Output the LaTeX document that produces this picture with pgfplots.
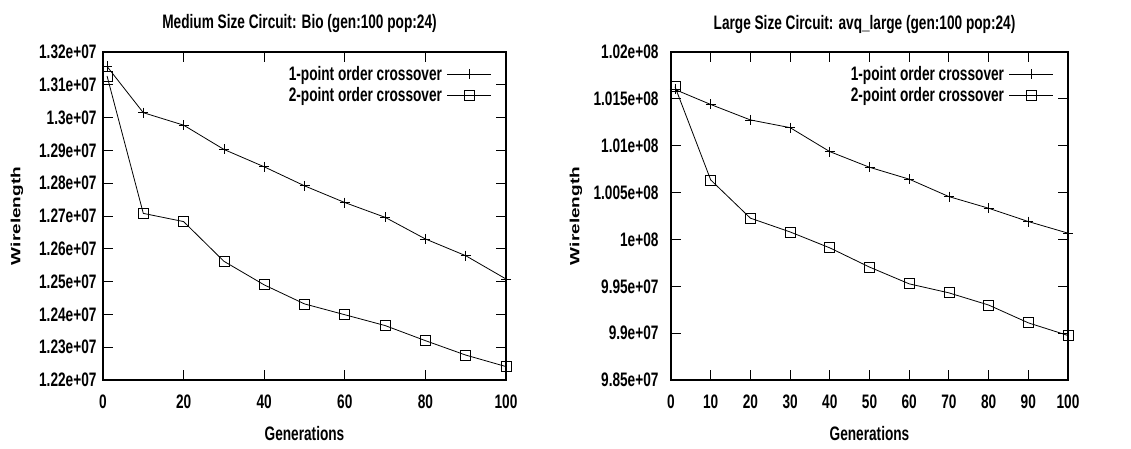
\documentclass[border=0pt]{standalone}
\usepackage{pgfplots}
\pgfplotsset{compat=1.18}
\usepackage{fontspec}
\usepackage{graphicx}
\setmainfont{Liberation Sans}[FakeStretch=0.7]
\newfontfamily\ylfont{Liberation Sans}
\newcommand\cf{\fontsize{19.5}{22}\selectfont\bfseries}

\pgfplotsset{
  gp/.style={
    scale only axis,
    height=328pt,
    xmin=0, xmax=100,
    axis line style={line width=1.5pt},
    tick style={line width=1pt, black},
    major tick length=10pt,
    tick align=inside,
    scaled y ticks=false,
    /pgf/number format/assume math mode=true,
    tick label style={font=\cf},
    xticklabel style={anchor=center, yshift=-22pt},
    yticklabel style={xshift=-3pt},
    title style={font=\cf, at={(axis description cs:0.5,1)}, anchor=center, yshift=22pt, xshift=-5pt},
    xlabel style={font=\cf, at={(axis description cs:0.5,0)}, anchor=center, yshift=-54pt},
    legend plot pos=right,
    legend cell align=right,
    legend style={draw=none, fill=none, font=\cf, at={(axis description cs:1,1)},
      anchor=north east, xshift=-14pt, yshift=-12pt, inner sep=0pt, row sep=2pt,
      column sep=3pt, nodes={inner sep=2pt}},
    legend image code/.code={\draw[mark repeat=2, mark phase=2, #1] plot coordinates {(0pt,0pt) (22pt,0pt) (44pt,0pt)};},
    every axis plot/.append style={black, line width=0.8pt, mark size=5pt, mark options={solid, line width=0.8pt}},
  }
}

\begin{document}
\begin{tikzpicture}
\useasboundingbox (0,0) rectangle (1131pt,448pt);

% medium circuit
\begin{axis}[gp,
  at={(103pt,68pt)}, anchor=south west,
  width=403pt,
  ymin=12200000, ymax=13200000,
  xtick={0,20,40,60,80,100},
  ytick={12200000,12300000,12400000,12500000,12600000,12700000,12800000,12900000,13000000,13100000,13200000},
  yticklabels={1.22e+07,1.23e+07,1.24e+07,1.25e+07,1.26e+07,1.27e+07,1.28e+07,1.29e+07,1.3e+07,1.31e+07,1.32e+07},
  title={Medium Size Circuit: Bio (gen:100 pop:24)},
  xlabel={Generations},
  ylabel={\scalebox{1}[0.7]{\ylfont\fontsize{19}{22}\selectfont\bfseries Wirelength}},
  ylabel style={at={(axis description cs:0,0.5)}, anchor=center, yshift=86pt},
]
\addplot[mark=+] coordinates {(1,13156000)(10,13015000)(20,12977000)(30,12903000)(40,12850000)(50,12792000)(60,12741000)(70,12696000)(80,12630000)(90,12579000)(100,12508000)};
\addlegendentry{1-point order crossover}
\addplot[mark=square] coordinates {(1,13127000)(10,12708000)(20,12683000)(30,12562000)(40,12490000)(50,12432000)(60,12399000)(70,12366000)(80,12320000)(90,12276000)(100,12241000)};
\addlegendentry{2-point order crossover}
\end{axis}

% large circuit
\begin{axis}[gp,
  at={(671pt,68pt)}, anchor=south west,
  width=397pt,
  ymin=98500000, ymax=102000000,
  xtick={0,10,20,30,40,50,60,70,80,90,100},
  ytick={98500000,99000000,99500000,100000000,100500000,101000000,101500000,102000000},
  yticklabels={9.85e+07,9.9e+07,9.95e+07,1e+08,1.005e+08,1.01e+08,1.015e+08,1.02e+08},
  yticklabel style={xshift=-6pt},
  title={Large Size Circuit: avq\_large (gen:100 pop:24)},
  xlabel={Generations},
  ylabel={\scalebox{1}[0.7]{\ylfont\fontsize{19}{22}\selectfont\bfseries Wirelength}},
  ylabel style={at={(axis description cs:0,0.5)}, anchor=center, yshift=95pt},
]
\addplot[mark=+] coordinates {(1,101600000)(10,101440000)(20,101275000)(30,101193000)(40,100937000)(50,100770000)(60,100643000)(70,100457000)(80,100333000)(90,100191000)(100,100067000)};
\addlegendentry{1-point order crossover}
\addplot[mark=square] coordinates {(1,101630000)(10,100635000)(20,100227000)(30,100080000)(40,99910000)(50,99705000)(60,99526000)(70,99430000)(80,99300000)(90,99110000)(100,98975000)};
\addlegendentry{2-point order crossover}
\end{axis}
\end{tikzpicture}
\end{document}
